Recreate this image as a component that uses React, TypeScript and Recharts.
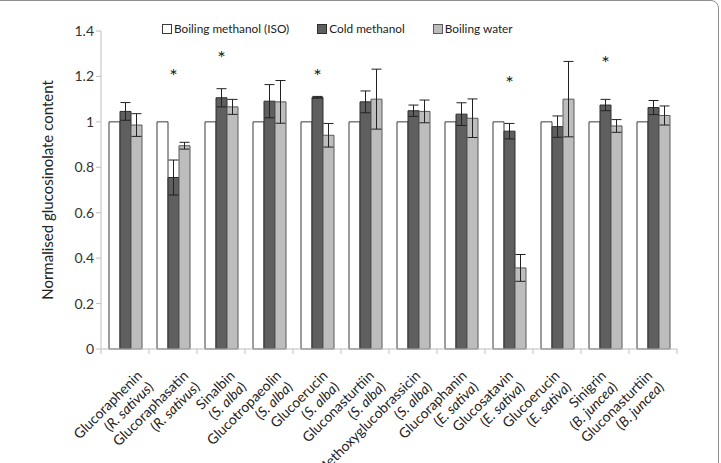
import React from "react"
import { BarChart, Bar, XAxis, YAxis, ErrorBar, LabelList, Legend } from "recharts"

const categories = [
  "Glucoraphenin",
  "Glucoraphasatin",
  "Sinalbin",
  "Glucotropaeolin",
  "Glucoerucin",
  "Gluconasturtiin",
  "Methoxyglucobrassicin",
  "Glucoraphanin",
  "Glucosatavin",
  "Glucoerucin",
  "Sinigrin",
  "Gluconasturtiin",
]
const species = [
  "R. sativus",
  "R. sativus",
  "S. alba",
  "S. alba",
  "S. alba",
  "S. alba",
  "S. alba",
  "E. sativa",
  "E. sativa",
  "E. sativa",
  "B. juncea",
  "B. juncea",
]

const boilingMethanol = [1, 1, 1, 1, 1, 1, 1, 1, 1, 1, 1, 1]
const coldMethanol = [1.046, 0.755, 1.106, 1.091, 1.108, 1.088, 1.049, 1.034, 0.959, 0.979, 1.074, 1.063]
const coldMethanolErr = [0.039, 0.077, 0.04, 0.073, 0.004, 0.048, 0.025, 0.05, 0.034, 0.047, 0.025, 0.031]
const boilingWater = [0.986, 0.895, 1.066, 1.088, 0.941, 1.1, 1.046, 1.016, 0.357, 1.1, 0.982, 1.028]
const boilingWaterErr = [0.05, 0.015, 0.033, 0.094, 0.052, 0.132, 0.05, 0.085, 0.059, 0.166, 0.028, 0.042]
// height (in data units) of the significance asterisk, null = none
const significance = [null, 1.147, 1.229, null, 1.15, null, null, null, 1.119, null, 1.207, null]

const yTicks = [0, 0.2, 0.4, 0.6, 0.8, 1, 1.2, 1.4]
const seriesNames = ["Boiling methanol (ISO)", "Cold methanol", "Boiling water"]
const seriesColors = ["#ffffff", "#5f5f5f", "#bdbdbd"]
const seriesStrokes = ["#3a3a3a", "#2e2e2e", "#5a5a5a"]

const FONT = "Lato, 'Open Sans', sans-serif"

const data = categories.map((name, i) => ({
  name,
  species: species[i],
  boiling: boilingMethanol[i],
  cold: coldMethanol[i],
  coldErr: coldMethanolErr[i],
  water: boilingWater[i],
  waterErr: boilingWaterErr[i],
}))

function CategoryTick(props: any) {
  const { x, y, payload, index } = props
  const i = payload.index ?? index
  const half = payload.offset ?? 24
  // excel lays the rotated labels out slightly tighter than the categories
  const drift = 13 - 1.6 * i
  return (
    <g>
      <line x1={x + half} y1={y} x2={x + half} y2={y + 5} stroke="#bfbfbf" />
      {i === 0 && <line x1={x - half} y1={y} x2={x - half} y2={y + 5} stroke="#bfbfbf" />}
      <g transform={`translate(${x + drift},${y}) rotate(-45)`}>
        <text x={-16} y={23} textAnchor="end" fontSize={14} fill="#222" fontFamily={FONT}>
          {categories[i]}
        </text>
        <text x={-16} y={39} textAnchor="end" fontSize={14} fill="#222" fontFamily={FONT}>
          (<tspan fontStyle="italic">{species[i]}</tspan>)
        </text>
      </g>
    </g>
  )
}

function Star(props: any) {
  const vb = props.viewBox ?? props
  const { x, y, width, height } = vb
  const i = props.index
  const sig = significance[i]
  if (sig == null) return null
  const v = coldMethanol[i]
  const base = y + height
  const sy = base - (sig * height) / v
  return (
    <text x={x + width / 2} y={sy - 5} textAnchor="middle" fontSize={20} fill="#222" fontFamily={FONT}>
      *
    </text>
  )
}

function YTitle(props: any) {
  const { viewBox } = props
  const cy = viewBox.y + viewBox.height / 2
  return (
    <text
      transform={`translate(47,${cy}) rotate(-90)`}
      textAnchor="middle"
      dominantBaseline="central"
      fontSize={15}
      fill="#222"
      fontFamily={FONT}
    >
      Normalised glucosinolate content
    </text>
  )
}

function LegendBox() {
  return (
    <div style={{ display: "flex", gap: 28, fontFamily: FONT, fontSize: 11.8, color: "#222" }}>
      {seriesNames.map((n, i) => (
        <div key={n} style={{ display: "flex", alignItems: "center" }}>
          <span
            style={{
              width: 8,
              height: 8,
              background: seriesColors[i],
              border: "1px solid " + seriesStrokes[i],
              marginRight: 2,
              display: "inline-block",
            }}
          />
          {n}
        </div>
      ))}
    </div>
  )
}

export default function App() {
  return (
    <div style={{ position: "absolute", left: 0, top: 0, width: 721, height: 463, overflow: "hidden", background: "#fff" }}>
      <div
        style={{
          position: "absolute",
          left: -10,
          top: 0,
          width: 727,
          height: 500,
          border: "1.5px solid #8f8f8f",
          borderRadius: 8,
        }}
      />
      <div style={{ position: "absolute", left: 0, top: 0 }}>
        <BarChart
          width={721}
          height={463}
          data={data}
          margin={{ top: 16, right: 44, bottom: 0, left: 0 }}
          barCategoryGap="15.6%"
          barGap={0}
        >
          <XAxis
            dataKey="name"
            interval={0}
            height={114}
            tickLine={false}
            tickSize={0}
            tickMargin={0}
            stroke="#bfbfbf"
            tick={<CategoryTick />}
          />
          <YAxis
            width={101}
            domain={[0, 1.4]}
            ticks={yTicks}
            tickFormatter={(v: number) => String(+v.toFixed(1))}
            stroke="#bfbfbf"
            tickSize={5}
            tick={{ fontSize: 14, fill: "#333", fontFamily: FONT }}
            label={<YTitle />}
          />
          <Legend
            verticalAlign="top"
            content={<LegendBox />}
            wrapperStyle={{ top: 21, left: 162, width: "auto" }}
          />
          <Bar dataKey="boiling" name={seriesNames[0]} barSize={11} fill={seriesColors[0]} stroke={seriesStrokes[0]} isAnimationActive={false} />
          <Bar dataKey="cold" name={seriesNames[1]} barSize={11} fill={seriesColors[1]} stroke={seriesStrokes[1]} isAnimationActive={false}>
            <ErrorBar dataKey="coldErr" width={5} stroke="#222" strokeWidth={1} />
            <LabelList dataKey="cold" content={<Star />} />
          </Bar>
          <Bar dataKey="water" name={seriesNames[2]} barSize={11} fill={seriesColors[2]} stroke={seriesStrokes[2]} isAnimationActive={false}>
            <ErrorBar dataKey="waterErr" width={5} stroke="#222" strokeWidth={1} />
          </Bar>
        </BarChart>
      </div>
    </div>
  )
}
